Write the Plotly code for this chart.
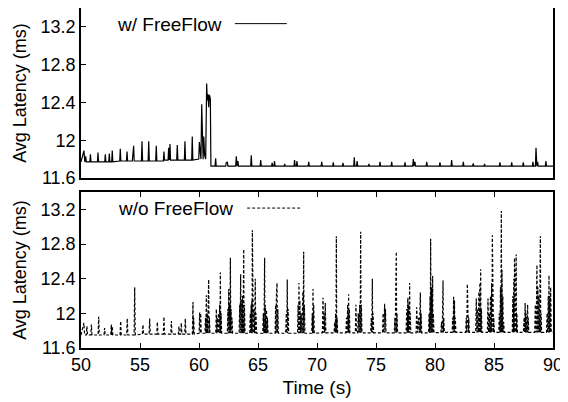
import plotly.graph_objects as go

# ---- w/ FreeFlow: spike times (s) and peak latency (ms)
ff_spike_t = [50.25, 50.4, 50.8, 51.44, 52.06, 52.4, 52.65, 53.33, 53.9, 54.4, 54.46,
              55.17, 55.74, 56.38, 57.03, 57.43, 57.54, 58.16, 58.81, 59.43,
              60.03, 60.1, 60.23, 60.3, 60.4, 60.48, 60.65, 60.7, 60.76, 60.82, 60.88, 60.96,
              61.41, 62.31, 62.4, 63.16, 63.3, 64.43, 65.23, 66.2, 66.4, 67.26, 68.1, 68.3,
              69.3, 70.4, 71.38, 72.2, 73.16, 73.4, 74.4, 75.34, 76.33, 77.46, 78.16, 78.3,
              79.3, 80.42, 81.41, 82.4, 83.24, 84.2, 85.5, 86.5, 87.48, 88.3, 88.56, 88.7, 89.4]
ff_spike_v = [11.89, 11.83, 11.85, 11.87, 11.85, 11.86, 11.89, 11.91, 11.88, 11.85, 11.94,
              11.99, 11.99, 11.94, 11.88, 11.92, 11.96, 11.95, 11.99, 12.04,
              11.98, 11.82, 12.38, 11.83, 12.04, 11.84, 12.60, 12.42, 12.49, 12.35, 12.48, 12.44,
              11.81, 11.76, 11.77, 11.83, 11.78, 11.84, 11.79, 11.76, 11.78, 11.75, 11.79, 11.78,
              11.77, 11.77, 11.765, 11.76, 11.82, 11.78, 11.75, 11.77, 11.77, 11.765, 11.80, 11.77,
              11.77, 11.765, 11.79, 11.77, 11.755, 11.75, 11.765, 11.765, 11.765, 11.77, 11.92, 11.77, 11.78]
# baseline level, piecewise from the given start times
ff_base_t = [50, 53, 57, 59.5, 61.0]
ff_base_v = [11.77, 11.78, 11.79, 11.80, 11.725]

# ---- w/o FreeFlow
noff_spike_t = [50.25, 50.5, 50.88, 51.5, 52.0, 52.57, 52.65, 53.36, 53.92, 54.55, 55.25, 55.82,
                56.47, 57.03, 57.66, 58.3, 58.5, 58.84, 59.49, 59.55, 60.06, 60.14,
                60.55, 60.62, 60.7, 60.76, 60.82, 60.88,
                61.47, 61.55, 61.65, 61.75, 61.81, 61.87,
                62.45, 62.52, 62.58, 62.66, 62.72, 62.8,
                63.45, 63.53, 63.6, 63.68, 63.79, 63.85,
                64.35, 64.42, 64.48, 64.52, 64.58, 64.64, 64.77, 64.83,
                65.45, 65.56, 65.62, 65.72, 65.8,
                66.5, 66.56, 66.61, 66.68,
                67.4, 67.48, 67.55,
                68.4, 68.47, 68.55, 68.65, 68.8, 68.87, 68.93,
                69.6, 69.66, 69.72,
                70.51, 70.6, 70.7,
                71.5, 71.58, 71.64, 71.7,
                72.5, 72.6, 72.68, 72.74,
                73.3, 73.5, 73.62, 73.7, 73.76,
                74.6, 74.69, 74.75,
                75.6, 75.73, 75.8,
                76.6, 76.66, 76.72, 76.78,
                77.6, 77.7, 77.78, 77.85, 77.9,
                78.45, 78.6, 78.76, 78.82,
                79.5, 79.58, 79.63, 79.7, 79.8, 79.86,
                80.55, 80.68, 80.74,
                81.5, 81.58, 81.65, 81.72,
                82.65, 82.74, 82.8, 82.86,
                83.5, 83.6, 83.72, 83.8, 83.87, 83.93,
                84.49, 84.6, 84.7, 84.8, 84.86, 84.92, 84.98,
                85.45, 85.55, 85.62, 85.68, 85.75, 85.82,
                86.6, 86.68, 86.74, 86.8, 86.88, 86.94,
                87.55, 87.64, 87.72, 87.85, 87.9,
                88.5, 88.64, 88.72, 88.8, 88.93, 88.99,
                89.5, 89.6, 89.66, 89.72, 89.8]
noff_spike_v = [11.89, 11.85, 11.87, 11.96, 11.83, 11.87, 11.85, 11.91, 11.94, 12.30, 11.87, 11.94,
                11.90, 11.96, 11.91, 11.85, 11.89, 11.94, 12.13, 11.95, 12.01, 12.00,
                11.95, 12.21, 12.00, 12.10, 12.39, 11.95,
                12.05, 11.95, 12.00, 12.10, 12.47, 12.00,
                12.05, 12.28, 12.10, 12.64, 12.05, 11.95,
                12.10, 12.45, 12.15, 12.20, 12.74, 12.10,
                12.00, 12.10, 12.15, 12.96, 12.10, 12.05, 12.40, 12.00,
                12.00, 12.64, 12.10, 12.04, 11.95,
                12.10, 12.20, 12.35, 12.05,
                12.00, 12.39, 12.05,
                12.10, 12.35, 12.15, 12.00, 12.25, 12.71, 12.10,
                12.00, 12.28, 12.10,
                12.18, 12.00, 12.12,
                11.90, 12.00, 12.89, 11.95,
                11.95, 12.10, 12.22, 12.05,
                12.10, 12.00, 12.10, 12.94, 12.10,
                11.95, 12.40, 12.00,
                12.00, 12.11, 12.05,
                11.95, 12.10, 12.71, 12.00,
                12.05, 12.18, 12.10, 12.35, 12.00,
                12.07, 11.95, 12.24, 12.00,
                12.00, 12.20, 12.86, 12.30, 12.43, 12.00,
                11.90, 12.38, 11.95,
                11.95, 12.19, 12.15, 11.95,
                11.95, 12.34, 12.18, 11.95,
                12.17, 12.05, 12.25, 12.35, 12.51, 12.05,
                12.17, 12.00, 12.20, 12.35, 12.90, 12.28, 11.95,
                12.00, 12.30, 13.18, 12.50, 12.20, 11.90,
                12.20, 12.40, 12.64, 12.50, 12.68, 12.00,
                11.95, 12.12, 12.00, 12.10, 11.95,
                12.10, 12.56, 12.30, 12.20, 12.89, 12.00,
                12.00, 12.20, 12.44, 12.20, 12.30]
noff_base_t = [50, 55, 60, 70, 80]
noff_base_v = [11.75, 11.76, 11.77, 11.775, 11.78]

y_ticks = [11.6, 12, 12.4, 12.8, 13.2]
y_ticktext = ['11.6', '12', '12.4', '12.8', '13.2']
x_ticks = [50, 55, 60, 65, 70, 75, 80, 85, 90]


def level(t, bt, bv):
    v = bv[0]
    for a, b in zip(bt, bv):
        if t >= a:
            v = b
    return v


def build(st, sv, bt, bv, join):
    pts = sorted(zip(st, sv))
    xs, ys = [50.0], [level(50, bt, bv)]
    for i, (t, v) in enumerate(pts):
        xs.append(t)
        ys.append(v)
        nxt = pts[i + 1][0] if i + 1 < len(pts) else 90.0
        gap = nxt - t
        if gap > 0.2:
            xs += [t + 0.05, nxt - 0.05]
            ys += [level(t + 0.05, bt, bv), level(nxt - 0.05, bt, bv)]
        elif gap > join:
            m = (t + nxt) / 2
            xs.append(m)
            ys.append(level(m, bt, bv))
    xs.append(90.0)
    ys.append(level(90, bt, bv))
    return xs, ys


ff_x, ff_y = build(ff_spike_t, ff_spike_v, ff_base_t, ff_base_v, 0.1)
no_x, no_y = build(noff_spike_t, noff_spike_v, noff_base_t, noff_base_v, 0.0)

fig = go.Figure()
fig.add_trace(go.Scatter(x=ff_x, y=ff_y, mode='lines', name='w/ FreeFlow',
                         line=dict(color='black', width=1.2), xaxis='x', yaxis='y'))
fig.add_trace(go.Scatter(x=no_x, y=no_y, mode='lines', name='w/o FreeFlow',
                         line=dict(color='black', width=1.2, dash='3px,2px'), xaxis='x2', yaxis='y2'))

font = 'Liberation Sans, Arial, sans-serif'
ax = dict(range=[50, 90], showline=True, linecolor='black', linewidth=1.5, showgrid=False,
          zeroline=False, tickvals=x_ticks, tickfont=dict(size=18, color='black'), automargin=False)
ay = dict(range=[11.6, 13.4], showline=True, linecolor='black', linewidth=1.5, showgrid=False,
          zeroline=False, mirror=True, ticks='inside', ticklen=5, tickcolor='black',
          tickvals=y_ticks, ticktext=y_ticktext, tickfont=dict(size=18, color='black'),
          automargin=False,
          title=dict(text='Avg Latency (ms)', font=dict(size=18, color='black'), standoff=9))

# page body has an 8px margin, so the figure is sized/placed to land where the original is
fig.update_layout(
    width=560, height=394,
    margin=dict(l=73, r=15, t=0, b=54),
    paper_bgcolor='white', plot_bgcolor='white',
    font=dict(family=font, color='black'),
    showlegend=False,
    xaxis=dict(ax, anchor='y', mirror=True, ticks='', showticklabels=False),
    yaxis=dict(ay, domain=[0.5, 1], anchor='x'),
    xaxis2=dict(ax, anchor='y2', mirror='ticks', ticks='inside', ticklen=5, tickcolor='black',
                title=dict(text='Time (s)', font=dict(size=19, color='black'), standoff=6)),
    yaxis2=dict(ay, domain=[0, 0.4588], anchor='x2'),
)

# legend text + key, placed like the original (text first, line sample after it)
fig.add_annotation(text='w/ FreeFlow', xref='x domain', yref='y domain', x=0.072, y=0.90,
                   xanchor='left', yanchor='middle', showarrow=False, font=dict(size=19))
fig.add_shape(type='line', xref='x domain', yref='y domain', x0=0.326, x1=0.436, y0=0.908, y1=0.908,
              line=dict(color='black', width=1))
fig.add_annotation(text='w/o FreeFlow', xref='x2 domain', yref='y2 domain', x=0.074, y=0.897,
                   xanchor='left', yanchor='middle', showarrow=False, font=dict(size=19))
fig.add_shape(type='line', xref='x2 domain', yref='y2 domain', x0=0.352, x1=0.468, y0=0.897, y1=0.897,
              line=dict(color='black', width=1, dash='3px,2px'))

fig.write_html('out.html')
